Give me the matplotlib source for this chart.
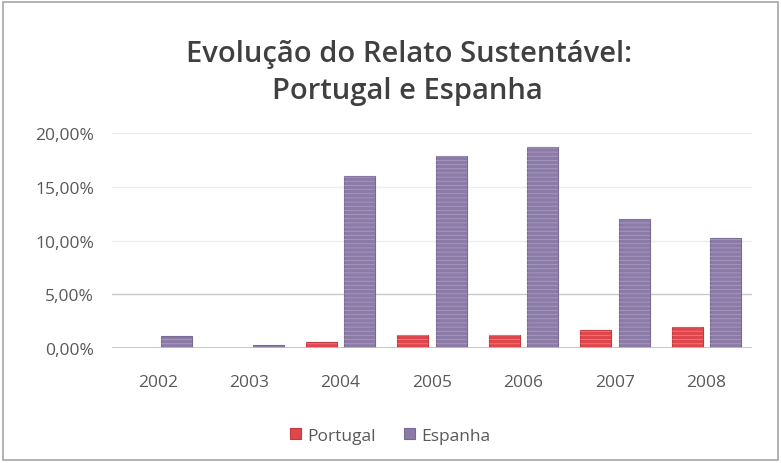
import numpy as np
import matplotlib.pyplot as plt
from matplotlib.patches import Rectangle
from matplotlib.ticker import FuncFormatter

years = ['2002', '2003', '2004', '2005', '2006', '2007', '2008']
portugal = [0.0, 0.0, 0.6, 1.2, 1.2, 1.7, 2.0]
espanha = [1.1, 0.3, 16.0, 17.9, 18.7, 12.0, 10.2]

red = '#e0474c'
purple = '#8b7ba6'
text_grey = '#595959'

plt.rcParams['font.family'] = ['Open Sans', 'DejaVu Sans']
plt.rcParams['hatch.linewidth'] = 0.6

fig = plt.figure(figsize=(7.81, 4.64), dpi=100)
fig.patches.append(Rectangle((0.004, 0.006), 0.992, 0.988, transform=fig.transFigure,
                             fill=False, edgecolor='#a6a6a6', linewidth=1.2))

ax = fig.add_axes([0.1434, 0.2478, 0.8195, 0.4634])
x = np.arange(len(years))
w = 0.34
off = 0.21

bp = ax.bar(x - off, portugal, w, color=red, edgecolor='#c03a3f', linewidth=0.8, zorder=3)
be = ax.bar(x + off, espanha, w, color=purple, edgecolor='#7a6b96', linewidth=0.8, zorder=3)
# striped look of the original bars
ax.bar(x - off, portugal, w, color='none', edgecolor='#f07a7e', hatch='----', linewidth=0, zorder=4)
ax.bar(x + off, espanha, w, color='none', edgecolor='#a99ac4', hatch='----', linewidth=0, zorder=4)

ax.set_xlim(-0.5, len(years) - 0.5)
ax.set_ylim(0, 20)
ax.set_yticks([0, 5, 10, 15, 20])
ax.yaxis.set_major_formatter(FuncFormatter(lambda v, p: f'{v:.2f}%'.replace('.', ',')))
ax.set_xticks(x)
ax.set_xticklabels(years)

for yv in [10, 15, 20]:
    ax.axhline(yv, color='#ececec', linewidth=1, zorder=1)
ax.axhline(5, color='#c8c8c8', linewidth=1, zorder=1)
ax.axhline(0, color='#bfbfbf', linewidth=1.2, zorder=5)

for s in ax.spines.values():
    s.set_visible(False)
ax.tick_params(length=0, colors=text_grey, labelsize=12.5)
ax.tick_params(axis='x', pad=19)
ax.tick_params(axis='y', pad=13)

fig.text(0.524, 0.882, 'Evolução do Relato Sustentável:', ha='center', va='center',
         fontsize=21, fontweight='semibold', color='#404040')
fig.text(0.522, 0.802, 'Portugal e Espanha', ha='center', va='center',
         fontsize=21, fontweight='semibold', color='#404040')

leg = fig.legend([bp, be], ['Portugal', 'Espanha'], loc='center', bbox_to_anchor=(0.5, 0.058),
                 ncol=2, frameon=False, fontsize=12.5, handlelength=0.6, handleheight=0.6,
                 handletextpad=0.4, columnspacing=1.6)
for t in leg.get_texts():
    t.set_color(text_grey)

fig.savefig('out.png', dpi=100)
